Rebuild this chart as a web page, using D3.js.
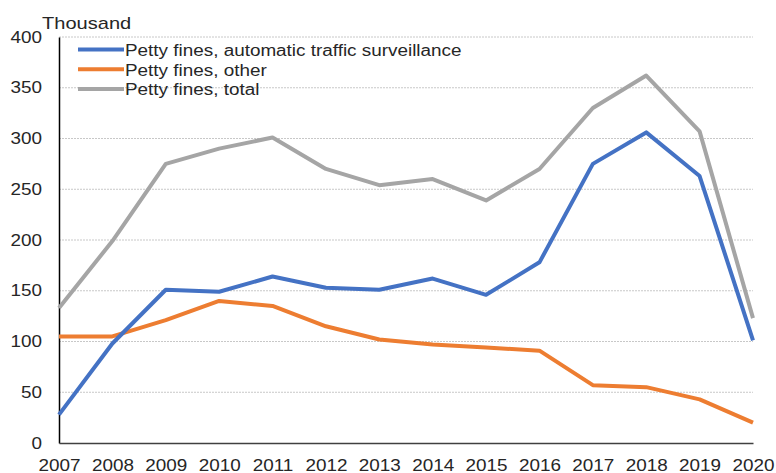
<!DOCTYPE html>
<html>
<head>
<meta charset="utf-8">
<script src="https://cdn.jsdelivr.net/npm/d3@7"></script>
<style>
  body { margin: 0; background: #fff; }
  text { font-family: "Liberation Sans", Arial, sans-serif; fill: #262626; }
</style>
</head>
<body>
<svg id="chart"></svg>
<script>
const years = [2007, 2008, 2009, 2010, 2011, 2012, 2013, 2014, 2015, 2016, 2017, 2018, 2019, 2020];
const automatic = [28, 98, 151, 149, 164, 153, 151, 162, 146, 178, 275, 306, 263, 101];
const other = [105, 105, 121, 140, 135, 115, 102, 97, 94, 91, 57, 55, 43, 20];
const total = [133, 199, 275, 290, 301, 270, 254, 260, 239, 270, 330, 362, 307, 123];
const seriesNames = ["Petty fines, automatic traffic surveillance", "Petty fines, other", "Petty fines, total"];
const yTicks = [0, 50, 100, 150, 200, 250, 300, 350, 400];

const width = 776, height = 473;
const margin = {top: 37, right: 23, bottom: 30, left: 59};
const stretch = 1.18; // the text in the original is a bit wide

const svg = d3.select("#chart").attr("width", width).attr("height", height);

const x = d3.scalePoint().domain(years).range([margin.left, width - margin.right]);
const y = d3.scaleLinear().domain([0, 400]).range([height - margin.bottom, margin.top]);

function widen(sel) {
  sel.each(function() {
    const w = this.getComputedTextLength();
    d3.select(this).attr("textLength", w * stretch).attr("lengthAdjust", "spacingAndGlyphs");
  });
}

// grid
svg.append("g").selectAll("line")
  .data(yTicks.filter(d => d > 0))
  .enter().append("line")
  .attr("x1", margin.left).attr("x2", width - margin.right)
  .attr("y1", d => y(d)).attr("y2", d => y(d))
  .attr("stroke", "#c8c8c8").attr("stroke-width", 1)
  .attr("stroke-dasharray", "2,1");

// y axis
const yAxis = svg.append("g")
  .attr("transform", "translate(" + margin.left + ",0)")
  .call(d3.axisLeft(y).tickValues(yTicks).tickSize(0).tickPadding(17));
yAxis.select(".domain").attr("stroke", "#000").attr("stroke-width", 1.5);
yAxis.selectAll("text").style("font-size", "16px").attr("fill", "#262626").call(widen);

// x axis
const xAxis = svg.append("g")
  .attr("transform", "translate(0," + y(0) + ")")
  .call(d3.axisBottom(x).tickSize(0).tickPadding(17));
xAxis.select(".domain").attr("stroke", "#404040").attr("stroke-width", 1.5);
xAxis.selectAll("text").style("font-size", "16px").attr("fill", "#262626").call(widen);

svg.append("text")
  .attr("x", 42).attr("y", 29)
  .style("font-size", "17px")
  .text("Thousand")
  .call(widen);

const series = [
  {name: seriesNames[0], values: automatic, color: "#4472c4"},
  {name: seriesNames[1], values: other, color: "#ed7d31"},
  {name: seriesNames[2], values: total, color: "#a5a5a5"}
];

const line = d3.line()
  .x((d, i) => x(years[i]))
  .y(d => y(d));

// draw total first so it sits behind
[series[2], series[1], series[0]].forEach(s => {
  svg.append("path")
    .datum(s.values)
    .attr("d", line)
    .attr("fill", "none")
    .attr("stroke", s.color)
    .attr("stroke-width", 4)
    .attr("stroke-linejoin", "round");
});

// legend
const legend = svg.append("g").attr("transform", "translate(78,49.5)");
series.forEach((s, i) => {
  legend.append("line")
    .attr("x1", 0).attr("x2", 46)
    .attr("y1", i * 19.7).attr("y2", i * 19.7)
    .attr("stroke", s.color).attr("stroke-width", 4);
  legend.append("text")
    .attr("x", 47).attr("y", i * 19.7 + 6.5)
    .style("font-size", "16px")
    .text(s.name)
    .call(widen);
});
</script>
</body>
</html>
